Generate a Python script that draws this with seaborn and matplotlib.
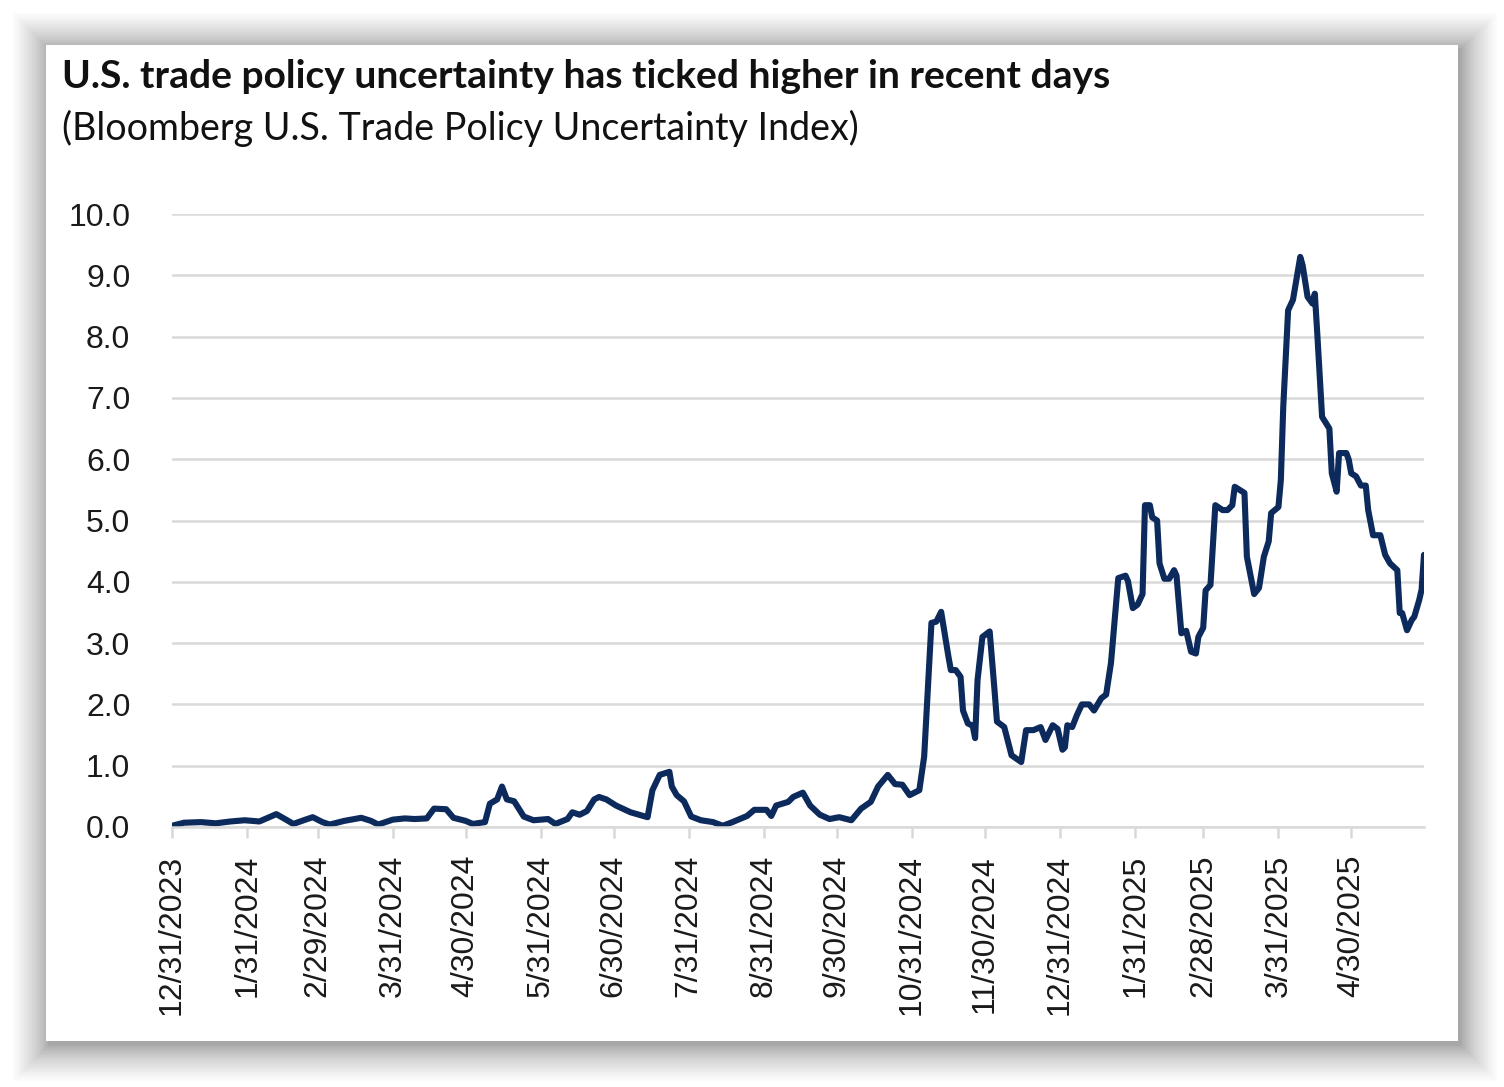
import numpy as np
import pandas as pd
import matplotlib
matplotlib.use("Agg")
import matplotlib.pyplot as plt
from matplotlib.patches import Rectangle
import seaborn as sns

# Data (days since 12/31/2023, index level)
start_date = pd.Timestamp("2023-12-31")
day_offset = [
    0, 5, 12, 18, 24, 30, 36, 43, 47, 50, 55, 58, 62, 65, 71, 78, 82, 85, 91, 96,
    100, 105, 108, 113, 116, 121, 124, 129, 131, 134, 136, 138, 141, 145, 149, 155, 158, 163, 165, 168,
    171, 174, 176, 179, 183, 189, 196, 198, 201, 205, 206, 208, 211, 214, 218, 223, 227, 231, 237, 240,
    245, 247, 249, 254, 256, 260, 263, 267, 271, 275, 280, 284, 288, 291, 295, 298, 301, 304, 308, 310,
    313, 315, 317, 320, 321, 323, 325, 326, 328, 330, 331, 332, 334, 337, 339, 340, 343, 346, 350, 352,
    355, 358, 360, 363, 365, 367, 368, 369, 371, 373, 375, 378, 380, 383, 385, 387, 389, 390, 393, 394,
    396, 398, 400, 401, 403, 404, 406, 407, 409, 411, 413, 414, 416, 418, 420, 422, 423, 425, 426, 428,
    430, 433, 435, 437, 438, 442, 443, 446, 448, 450, 452, 453, 456, 457, 458, 460, 462, 465, 466, 468,
    470, 471, 472, 474, 477, 478, 480, 481, 484, 485, 486, 488, 490, 492, 493, 495, 498, 500, 502, 505,
    506, 507, 509, 511, 512, 514, 515, 516,
]
index_value = [
    0.02, 0.07, 0.08, 0.06, 0.09, 0.11, 0.09, 0.21, 0.12, 0.05, 0.12, 0.16, 0.08, 0.04, 0.10, 0.15, 0.10, 0.04, 0.12, 0.14,
    0.13, 0.14, 0.30, 0.29, 0.15, 0.10, 0.05, 0.08, 0.38, 0.45, 0.66, 0.45, 0.42, 0.17, 0.11, 0.13, 0.05, 0.13, 0.24, 0.20,
    0.26, 0.45, 0.49, 0.45, 0.35, 0.24, 0.16, 0.60, 0.85, 0.90, 0.66, 0.52, 0.42, 0.17, 0.11, 0.08, 0.02, 0.08, 0.18, 0.28,
    0.28, 0.18, 0.35, 0.41, 0.49, 0.56, 0.35, 0.20, 0.13, 0.16, 0.11, 0.30, 0.41, 0.66, 0.85, 0.70, 0.69, 0.52, 0.60, 1.15,
    3.33, 3.35, 3.51, 2.78, 2.56, 2.56, 2.45, 1.90, 1.69, 1.65, 1.45, 2.40, 3.10, 3.19, 2.23, 1.72, 1.63, 1.17, 1.06, 1.58,
    1.58, 1.63, 1.42, 1.66, 1.60, 1.26, 1.30, 1.66, 1.63, 1.83, 2.00, 2.00, 1.90, 2.10, 2.16, 2.68, 3.60, 4.06, 4.10, 4.01,
    3.57, 3.63, 3.80, 5.25, 5.25, 5.05, 5.00, 4.30, 4.05, 4.05, 4.19, 4.10, 3.16, 3.20, 2.86, 2.83, 3.10, 3.25, 3.86, 3.95,
    5.25, 5.17, 5.17, 5.25, 5.55, 5.45, 4.41, 3.80, 3.90, 4.41, 4.66, 5.12, 5.22, 5.66, 6.86, 8.43, 8.60, 9.30, 9.16, 8.65,
    8.54, 8.70, 8.06, 6.69, 6.50, 5.77, 5.47, 6.10, 6.10, 5.99, 5.77, 5.72, 5.57, 5.57, 5.17, 4.76, 4.76, 4.44, 4.30, 4.19,
    3.49, 3.49, 3.21, 3.38, 3.43, 3.70, 3.87, 4.44,
]
tick_dates = [
    "2023-12-31", "2024-01-31", "2024-02-29", "2024-03-31", "2024-04-30", "2024-05-31",
    "2024-06-30", "2024-07-31", "2024-08-31", "2024-09-30", "2024-10-31", "2024-11-30",
    "2024-12-31", "2025-01-31", "2025-02-28", "2025-03-31", "2025-04-30",
]
y_ticks = [0, 1, 2, 3, 4, 5, 6, 7, 8, 9, 10]

title = "U.S. trade policy uncertainty has ticked higher in recent days"
subtitle = "(Bloomberg U.S. Trade Policy Uncertainty Index)"

df = pd.DataFrame({
    "date": start_date + pd.to_timedelta(day_offset, unit="D"),
    "value": index_value,
})
ticks = pd.to_datetime(tick_dates)

sns.set_theme(style="white")
plt.rcParams["font.family"] = ["Liberation Sans", "DejaVu Sans"]

W, H = 1504, 1087
fig = plt.figure(figsize=(W / 100, H / 100), dpi=100)
fig.patch.set_facecolor("white")

# card with a soft drop shadow
cx0, cy0, cx1, cy1 = 46, 45, 1458, 1041
n = 24
for i in range(n):
    k = 36 * (1 - i / n) ** 1.6
    fig.patches.append(Rectangle(((cx0 - k + 3) / W, 1 - (cy1 + k + 4) / H),
                                 (cx1 - cx0 + 2 * k) / W, (cy1 - cy0 + 2 * k) / H,
                                 transform=fig.transFigure, facecolor="black",
                                 edgecolor="none", alpha=0.014, zorder=0))
fig.patches.append(Rectangle((cx0 / W, 1 - cy1 / H), (cx1 - cx0) / W, (cy1 - cy0) / H,
                             transform=fig.transFigure, facecolor="white",
                             edgecolor="none", zorder=1))

# plot area
px0, px1, py_top, py_bot = 172, 1424, 214, 827
ax = fig.add_axes([px0 / W, 1 - py_bot / H, (px1 - px0) / W, (py_bot - py_top) / H], zorder=2)
ax.set_facecolor("none")

sns.lineplot(data=df, x="date", y="value", ax=ax, color="#0c2a5c", linewidth=4.4)
for ln in ax.get_lines():
    ln.set_solid_joinstyle("round")
    ln.set_solid_capstyle("round")

ax.set_xlim(start_date, start_date + pd.Timedelta(days=516))
ax.set_ylim(0, 10)
ax.set_yticks(y_ticks)
ax.set_yticklabels([f"{v:.1f}" for v in y_ticks])
ax.set_xticks(ticks)
ax.set_xticklabels([f"{d.month}/{d.day}/{d.year}" for d in ticks], rotation=90)

ax.grid(axis="y", color="#d9d9d9", linewidth=1.8)
ax.grid(axis="x", visible=False)
for side in ["top", "right", "left"]:
    ax.spines[side].set_visible(False)
ax.spines["bottom"].set_color("#d9d9d9")
ax.spines["bottom"].set_linewidth(1.8)
ax.tick_params(axis="y", length=0, pad=30, labelsize=23, labelcolor="#1a1a1a")
ax.tick_params(axis="x", bottom=True, direction="out", length=8, width=1.8, color="#d9d9d9",
               pad=12, labelsize=23, labelcolor="#1a1a1a")
ax.set_xlabel("")
ax.set_ylabel("")

# titles
t1 = fig.text(62 / W, 1 - 59 / H, title, fontsize=25, fontweight="bold",
              family=["Lato", "DejaVu Sans"], color="#111111", va="top", ha="left")
t2 = fig.text(62 / W, 1 - 110 / H, subtitle, fontsize=24,
              family=["Lato", "DejaVu Sans"], color="#111111", va="top", ha="left")

# fit title widths to the reference
fig.canvas.draw()
r = fig.canvas.get_renderer()
for t, target in [(t1, 1051), (t2, 796)]:
    w = t.get_window_extent(r).width
    t.set_fontsize(t.get_fontsize() * target / w)

fig.savefig("out.png", dpi=100, facecolor=fig.get_facecolor())
